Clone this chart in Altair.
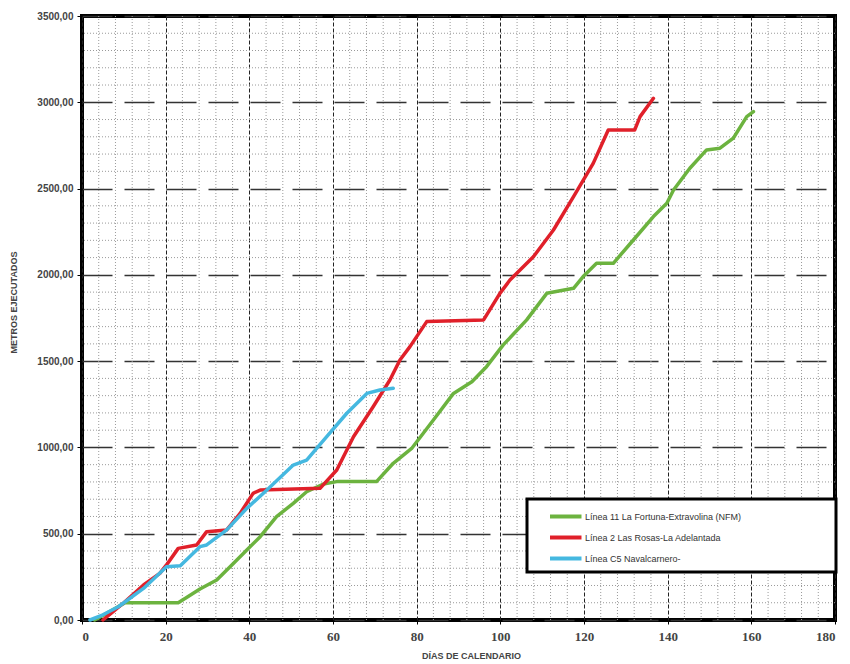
import altair as alt
import pandas as pd

# ---- data ----
series_names = [
    "Línea 11 La Fortuna-Extravolina (NFM)",
    "Línea 2 Las Rosas-La Adelantada",
    "Línea C5 Navalcarnero-",
]
series_colors = ["#6cb33f", "#e0202a", "#45b8e0"]

green_days = [3, 6, 10.3, 23, 25, 28.2, 32.2, 35.4, 39.4, 42.6, 46.5, 50.5, 53.7, 57.7, 60.9,
              70.4, 74.4, 78.8, 84, 88.8, 93.2, 96.7, 100.7, 106.3, 111.1, 117.5, 119.8, 123,
              127, 131.8, 136.6, 139.8, 141.4, 145.3, 149.3, 152.5, 155.7, 158.9, 160.5]
green_vals = [0, 40, 100, 100, 130, 180, 232, 309, 405, 483, 599, 676, 743, 788, 802,
              802, 908, 994, 1159, 1313, 1381, 1468, 1594, 1739, 1893, 1922, 1990, 2067,
              2067, 2202, 2338, 2415, 2492, 2618, 2724, 2734, 2792, 2917, 2946]

red_days = [5, 7, 10, 14.7, 18.6, 20.2, 23, 27.4, 29.8, 34.6, 37.8, 40.9, 42.6, 56.9, 60.9,
            64.9, 69.6, 73.6, 76, 78.4, 82.4, 96, 99.9, 102.3, 107.9, 112.7, 117.5, 122.2,
            125.8, 132.1, 133.4, 136.6]
red_vals = [0, 40, 100, 203, 270, 319, 415, 435, 512, 522, 618, 734, 753, 763, 869,
            1062, 1236, 1391, 1507, 1584, 1729, 1739, 1893, 1970, 2105, 2260, 2453, 2646,
            2839, 2839, 2917, 3023]

cyan_days = [1.9, 5, 8.7, 14.7, 20.2, 23.5, 28.2, 29.8, 34.6, 39.4, 44.2, 50.5, 53.7, 58.5,
             63.3, 68.1, 71.2, 74.4]
cyan_vals = [0, 30, 77, 183, 309, 315, 425, 435, 522, 647, 753, 898, 927, 1062,
             1198, 1313, 1333, 1343]

x_ticks = list(range(0, 181, 20))
y_ticks = list(range(0, 3501, 500))
x_minor = [d for d in range(0, 181, 4) if d % 20]
y_minor = [v for v in range(0, 3501, 100) if v % 500]

# ---- tables ----
rows = []
for name, ds, vs in zip(series_names, [green_days, red_days, cyan_days],
                        [green_vals, red_vals, cyan_vals]):
    for i, (d, v) in enumerate(zip(ds, vs)):
        rows.append({"serie": name, "day": d, "metros": v, "i": i})
df = pd.DataFrame(rows)
df_xminor = pd.DataFrame({"day": x_minor})
df_yminor = pd.DataFrame({"metros": y_minor})

x_scale = alt.Scale(domain=[0, 180], nice=False, zero=True)
y_scale = alt.Scale(domain=[0, 3500], nice=False, zero=True)

x_axis = alt.Axis(values=x_ticks, title="DÍAS DE CALENDARIO", grid=True, gridDash=[4, 2],
                  gridColor="#222222", gridWidth=1, domain=False, ticks=True, tickColor="black",
                  tickSize=4, labelFont="Liberation Sans Narrow", labelFontSize=13,
                  labelFontWeight="bold", labelColor="#444444", labelPadding=6,
                  titleFont="Liberation Sans", titleFontSize=9, titleFontWeight="bold",
                  titleColor="#444444", titlePadding=8, titleX=389)
y_axis = alt.Axis(values=y_ticks, title="METROS EJECUTADOS", grid=True, gridDash=[30, 12],
                  gridColor="#333333", gridWidth=1.3, domain=False, ticks=True, tickColor="black",
                  tickSize=5, labelFont="Liberation Sans", labelFontSize=10,
                  labelFontWeight="bold", labelColor="#444444", labelPadding=4,
                  labelExpr="replace(format(datum.value, '.2f'), '.', ',')",
                  titleFont="Liberation Sans", titleFontSize=9, titleFontWeight="bold",
                  titleColor="#444444", titlePadding=18, titleY=286)

pad = "\u00a0" * 36 + "\u200b"

vminor = alt.Chart(df_xminor).mark_rule(color="#9a9a9a", strokeWidth=1, strokeDash=[1, 2]).encode(
    x=alt.X("day:Q", scale=x_scale, axis=x_axis)
)
hminor = alt.Chart(df_yminor).mark_rule(color="#9a9a9a", strokeWidth=1, strokeDash=[1, 2]).encode(
    y=alt.Y("metros:Q", scale=y_scale, axis=y_axis)
)

lines = alt.Chart(df).mark_line(strokeWidth=3.5, strokeJoin="round", strokeCap="round").encode(
    x=alt.X("day:Q", scale=x_scale, axis=x_axis),
    y=alt.Y("metros:Q", scale=y_scale, axis=y_axis),
    color=alt.Color("serie:N", scale=alt.Scale(domain=series_names, range=series_colors),
                    sort=series_names,
                    legend=alt.Legend(title=None, orient="none", legendX=445, legendY=483,
                                      direction="vertical", strokeColor="black",
                                      fillColor="white", padding=5,
                                      symbolType="M-1,0H2", symbolOffset=16,
                                      symbolSize=441, symbolStrokeWidth=4, labelOffset=12,
                                      labelFont="Liberation Sans", labelFontSize=9,
                                      labelColor="#333333", labelLimit=800,
                                      labelExpr="datum.label + '" + pad + "'")),
    order=alt.Order("i:Q"),
)

chart = alt.layer(vminor, hminor, lines).properties(
    width=753, height=604,
    padding={"left": 82, "top": 16, "right": 15, "bottom": 44},
    autosize=alt.AutoSizeParams(type="none"),
    background="white",
).configure_view(stroke="black", strokeWidth=4).configure_legend(strokeWidth=3, rowPadding=0)

chart.save("out.html", embed_options={"renderer": "svg", "actions": False})
